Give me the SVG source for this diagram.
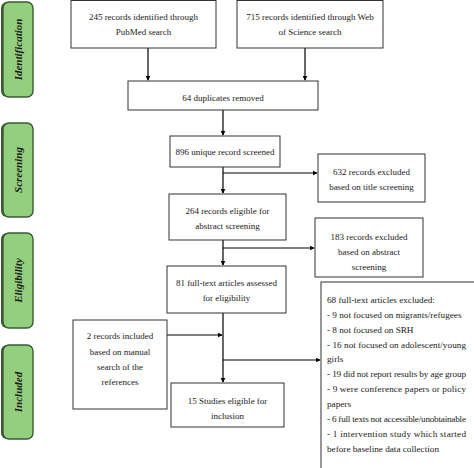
<svg xmlns="http://www.w3.org/2000/svg" width="474" height="468" viewBox="0 0 474 468">
<defs>
<marker id="ah" viewBox="0 0 8 8" refX="7" refY="4" markerWidth="5" markerHeight="5" orient="auto" markerUnits="userSpaceOnUse">
<path d="M0,0 L8,4 L0,8 z" fill="#000"/>
</marker>
<style>
.box{fill:#fff;stroke:#333;stroke-width:1}
.phase{fill:#93cf7e;stroke:#3b5a33;stroke-width:1.4}
.shade{fill:#3b5a33}
.t{font-family:"Liberation Serif","DejaVu Serif",serif;font-size:9px;fill:#1a1a1a;text-anchor:middle}
.l{font-family:"Liberation Serif","DejaVu Serif",serif;font-size:9.2px;fill:#1a1a1a}
.p{font-family:"Liberation Serif","DejaVu Serif",serif;font-size:11px;font-weight:bold;font-style:italic;fill:#1a1a1a;text-anchor:middle}
.c{fill:none;stroke:#000;stroke-width:1.2}
</style>
</defs>
<rect width="474" height="468" fill="#fff"/>

<g id="phase-identification">
<rect class="shade" x="1" y="2" width="32" height="95" rx="6"/>
<rect class="phase" x="3" y="2" width="30" height="95" rx="6"/>
<text class="p" transform="translate(22,49.5) rotate(-90)">Identification</text>
</g>
<g id="phase-screening">
<rect class="shade" x="1" y="123" width="32" height="94" rx="6"/>
<rect class="phase" x="3" y="123" width="30" height="94" rx="6"/>
<text class="p" transform="translate(22,170) rotate(-90)">Screening</text>
</g>
<g id="phase-eligibility">
<rect class="shade" x="1" y="233" width="32" height="95" rx="6"/>
<rect class="phase" x="3" y="233" width="30" height="95" rx="6"/>
<text class="p" transform="translate(22,280.5) rotate(-90)">Eligibility</text>
</g>
<g id="phase-included">
<rect class="shade" x="1" y="345" width="32" height="94" rx="6"/>
<rect class="phase" x="3" y="345" width="30" height="94" rx="6"/>
<text class="p" transform="translate(22,392) rotate(-90)">Included</text>
</g>

<g id="connectors">
<line class="c" x1="148" y1="48" x2="148" y2="80" marker-end="url(#ah)"/>
<line class="c" x1="305" y1="48" x2="305" y2="80" marker-end="url(#ah)"/>
<line class="c" x1="223" y1="110" x2="223" y2="135" marker-end="url(#ah)"/>
<line class="c" x1="223" y1="167" x2="223" y2="193" marker-end="url(#ah)"/>
<line class="c" x1="223" y1="173" x2="317" y2="173" marker-end="url(#ah)"/>
<line class="c" x1="223" y1="240" x2="223" y2="265" marker-end="url(#ah)"/>
<line class="c" x1="223" y1="248" x2="314" y2="248" marker-end="url(#ah)"/>
<line class="c" x1="223" y1="313" x2="223" y2="382" marker-end="url(#ah)"/>
<line class="c" x1="223" y1="360" x2="320" y2="360" marker-end="url(#ah)"/>
<line class="c" x1="167" y1="335" x2="222" y2="335" marker-end="url(#ah)"/>
</g>

<g id="node-pubmed">
<rect class="box" x="71" y="0.5" width="145" height="47.5"/>
<text class="t" x="143.5" y="20">245 records identified through</text>
<text class="t" x="143.5" y="35">PubMed search</text>
</g>
<g id="node-wos">
<rect class="box" x="237" y="0.5" width="146" height="47.5"/>
<text class="t" x="310" y="20">715 records identified through Web</text>
<text class="t" x="310" y="35">of Science search</text>
</g>
<g id="node-duplicates">
<rect class="box" x="128" y="81" width="190" height="29"/>
<text class="t" x="223" y="101">64 duplicates removed</text>
</g>
<g id="node-screened">
<rect class="box" x="170" y="136" width="110" height="31"/>
<text class="t" x="225" y="155">896 unique record screened</text>
</g>
<g id="node-excluded-title">
<rect class="box" x="318" y="154" width="107" height="48"/>
<text class="t" x="371.5" y="175">632 records excluded</text>
<text class="t" x="371.5" y="190">based on title screening</text>
</g>
<g id="node-abstract">
<rect class="box" x="169" y="194" width="117" height="46"/>
<text class="t" x="227.5" y="214">264 records eligible for</text>
<text class="t" x="227.5" y="229">abstract screening</text>
</g>
<g id="node-excluded-abstract">
<rect class="box" x="315" y="218" width="108" height="59"/>
<text class="t" x="369" y="240">183 records excluded</text>
<text class="t" x="369" y="255">based on abstract</text>
<text class="t" x="369" y="270">screening</text>
</g>
<g id="node-fulltext">
<rect class="box" x="167" y="266" width="119" height="47"/>
<text class="t" x="226.5" y="286">81 full-text articles assessed</text>
<text class="t" x="226.5" y="301">for eligibility</text>
</g>
<g id="node-manual">
<rect class="box" x="73" y="320" width="94" height="89"/>
<text class="t" x="120" y="339">2 records included</text>
<text class="t" x="120" y="355">based on manual</text>
<text class="t" x="120" y="370">search of the</text>
<text class="t" x="120" y="385">references</text>
</g>
<g id="node-included">
<rect class="box" x="171" y="383" width="113" height="44"/>
<text class="t" x="227.5" y="404">15 Studies eligible for</text>
<text class="t" x="227.5" y="419">inclusion</text>
</g>
<g id="node-excluded-fulltext">
<rect class="box" x="321" y="282" width="160" height="200"/>
<text class="l" x="327" y="303">68 full-text articles excluded:</text>
<text class="l" x="327" y="318">- 9 not focused on migrants/refugees</text>
<text class="l" x="327" y="333">- 8 not focused on SRH</text>
<text class="l" x="327" y="348" textLength="139" lengthAdjust="spacing">- 16 not focused on adolescent/young</text>
<text class="l" x="327" y="362">girls</text>
<text class="l" x="327" y="377" textLength="139" lengthAdjust="spacing">- 19 did not report results by age group</text>
<text class="l" x="327" y="392" textLength="139" lengthAdjust="spacing">- 9 were conference papers or policy</text>
<text class="l" x="327" y="407">papers</text>
<text class="l" x="327" y="422" textLength="139" lengthAdjust="spacing">- 6 full texts not accessible/unobtainable</text>
<text class="l" x="327" y="437" textLength="139" lengthAdjust="spacing">- 1 intervention study which started</text>
<text class="l" x="327" y="452">before baseline data collection</text>
</g>
</svg>
